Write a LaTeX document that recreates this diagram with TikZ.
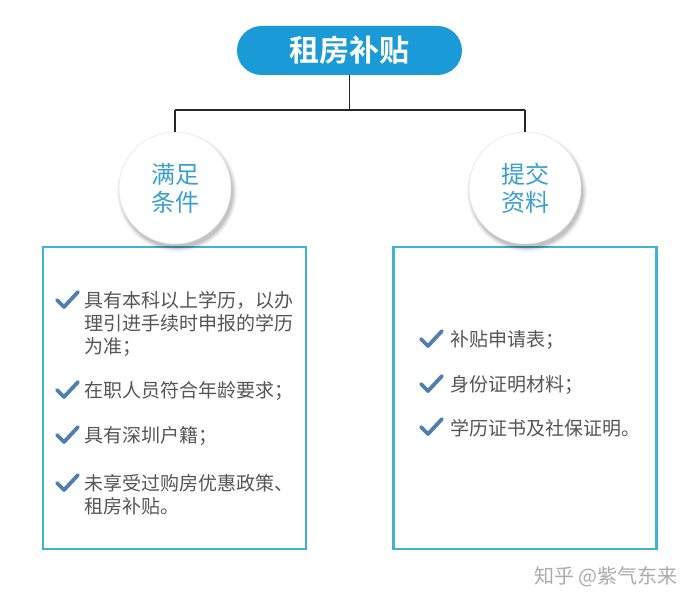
\documentclass[tikz,border=0pt]{standalone}
\usepackage{fontspec}
\newfontfamily\cjk{Noto Sans CJK SC}
\newfontfamily\cjkbold{Noto Sans CJK SC Bold}
\definecolor{titleblue}{HTML}{1A9AD6}
\definecolor{circtext}{HTML}{3A9FCF}
\definecolor{boxline}{HTML}{43B0D6}
\definecolor{checkblue}{HTML}{4E7FAE}
\definecolor{itemtext}{HTML}{555555}
\definecolor{wmark}{HTML}{ABABAB}
\tikzset{
  titlebox/.style={rounded corners=24.5pt, fill=titleblue, draw=none, minimum width=225pt, minimum height=49pt, text=white, font=\cjkbold\fontsize{30}{34}\selectfont},
  catcircle/.style={circle, fill=white, draw=black!10, line width=0.5pt, minimum size=112pt, inner sep=0pt, align=center, text=circtext, font=\cjk\fontsize{24}{28}\selectfont},
  listbox/.style={draw=boxline, line width=2.6pt, fill=white, minimum width=263pt, minimum height=302pt, inner sep=0pt},
  connector/.style={draw=black!85, line width=1.6pt},
  itemtxt/.style={anchor=west, inner sep=0pt, align=left, text=itemtext, font=\cjk\fontsize{19}{23}\selectfont},
  wm/.style={anchor=east, inner sep=0pt, text=wmark, font=\cjk\fontsize{20}{24}\selectfont},
  checkmark/.pic={\draw[checkblue, line width=3.8pt, line cap=round, line join=round] (-10,0) -- (-3,7) -- (11,-8);},
  softshadow/.pic={
    \foreach \r/\o in {60/0.03,59/0.04,58/0.05,57/0.06,56/0.07}{\fill[black, opacity=\o] (2,4) circle[radius=\r];}
  }
}
\begin{document}
\begin{tikzpicture}[x=1pt,y=-1pt]
\useasboundingbox (0,0) rectangle (697,604);
\fill[white] (0,0) rectangle (697,604);
% title
\node[titlebox] (title) at (349.5,50.5) {租房补贴};
% junction coordinates
\coordinate (j) at (349.5,110);
\coordinate (jl) at (175,110);
\coordinate (jr) at (525,110);
% boxes
\node[listbox] (lbox) at (174.5,398) {};
\node[listbox] (rbox) at (525,398) {};
% circles with soft shadows
\pic at (175,188) {softshadow};
\pic at (525,188) {softshadow};
\node[catcircle] (cond) at (175,188) {满足\\条件};
\node[catcircle] (docs) at (525,188) {提交\\资料};
% connectors
\draw[connector] (title.south) -- (j);
\draw[connector] (jl) -- (jr);
\draw[connector] (jl) -- (cond.north);
\draw[connector] (jr) -- (docs.north);
% left items
\pic at (67,300) {checkmark};
\node[itemtxt] (l1) at (84,324) {具有本科以上学历，以办\\理引进手续时申报的学历\\为准；};
\pic at (67,390) {checkmark};
\node[itemtxt] (l2) at (84,391) {在职人员符合年龄要求；};
\pic at (67,435) {checkmark};
\node[itemtxt] (l3) at (84,436) {具有深圳户籍；};
\pic at (67,483) {checkmark};
\node[itemtxt] (l4) at (84,495) {未享受过购房优惠政策、\\租房补贴。};
% right items
\pic at (431,339) {checkmark};
\node[itemtxt] (r1) at (450,340) {补贴申请表；};
\pic at (431,384) {checkmark};
\node[itemtxt] (r2) at (450,385) {身份证明材料；};
\pic at (431,427) {checkmark};
\node[itemtxt] (r3) at (450,428) {学历证书及社保证明。};
% watermark
\node[wm] (mark) at (678,577) {知乎 @紫气东来};
\end{tikzpicture}
\end{document}
